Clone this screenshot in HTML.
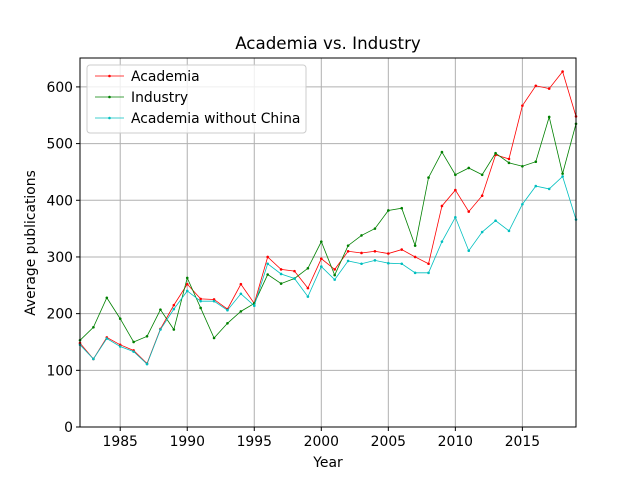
<!DOCTYPE html>
<html><head><meta charset="utf-8"><style>
body{margin:0;background:#fff;}
svg{display:block;font-family:"DejaVu Sans","Liberation Sans",sans-serif;}
</style></head><body>
<svg id="chart" width="640" height="480"></svg>
<script>
const years=[1982,1983,1984,1985,1986,1987,1988,1989,1990,1991,1992,1993,1994,1995,1996,1997,1998,1999,2000,2001,2002,2003,2004,2005,2006,2007,2008,2009,2010,2011,2012,2013,2014,2015,2016,2017,2018,2019];
const academia=[148,120,158,145,135,112,173,215,252,226,225,208,252,218,300,278,275,245,297,278,310,307,310,306,313,300,288,390,418,380,408,480,473,567,602,597,627,548];
const industry=[153,176,228,191,150,160,207,172,263,210,157,183,204,218,269,253,262,280,327,268,320,338,350,382,386,320,440,485,445,457,445,483,466,460,468,547,447,535];
const academiaNoChina=[145,120,156,142,133,111,172,208,240,222,222,206,235,214,288,270,262,230,283,260,293,288,294,289,288,272,272,327,370,311,344,364,346,393,425,420,442,366];
const xTicks=[1985,1990,1995,2000,2005,2010,2015];
const yTicks=[0,100,200,300,400,500,600];
const L=80,R=576,T=58,B=427;
const xMin=1982,xMax=2019,yMin=0,yMax=651;
const X=v=>L+(v-xMin)/(xMax-xMin)*(R-L);
const Y=v=>B-(v-yMin)/(yMax-yMin)*(B-T);
const svg=document.getElementById('chart');
const NS='http://www.w3.org/2000/svg';
function mk(tag,attrs){const e=document.createElementNS(NS,tag);for(const k in attrs)e.setAttribute(k,attrs[k]);svg.appendChild(e);return e;}
xTicks.forEach(t=>{const g=mk('line',{x1:X(t),x2:X(t),y1:T,y2:B,stroke:'#b0b0b0','stroke-width':1});

});
yTicks.forEach(t=>{const g=mk('line',{x1:L,x2:R,y1:Y(t),y2:Y(t),stroke:'#b0b0b0','stroke-width':1});

});
const series=[[academia,'#ff0000','academia-line'],[industry,'#008000','industry-line'],[academiaNoChina,'#00bfbf','academia-without-china-line']];
series.forEach(([d,c,n])=>{
 const p=mk('polyline',{points:d.map((v,i)=>X(years[i])+','+Y(v)).join(' '),fill:'none',stroke:c,'stroke-width':0.8});
 
 
 d.forEach((v,i)=>{const m=mk('circle',{cx:X(years[i]),cy:Y(v),r:1.3,fill:c});
 
 });
});
const f=mk('rect',{x:L,y:T,width:R-L,height:B-T,fill:'none',stroke:'#000','stroke-width':1});


xTicks.forEach(t=>{mk('line',{x1:X(t),x2:X(t),y1:B,y2:B+4,stroke:'#000'});
const tx=mk('text',{x:X(t),y:B+19,'text-anchor':'middle','font-size':13.9});tx.textContent=t;

});
yTicks.forEach(t=>{mk('line',{x1:L-4,x2:L,y1:Y(t),y2:Y(t),stroke:'#000'});
const tx=mk('text',{x:L-7,y:Y(t)+5,'text-anchor':'end','font-size':13.9});tx.textContent=t;

});
let t=mk('text',{x:328,y:49,'text-anchor':'middle','font-size':16.7});t.textContent='Academia vs. Industry';


t=mk('text',{x:328,y:467,'text-anchor':'middle','font-size':13.9});t.textContent='Year';


t=mk('text',{x:35,y:243,'text-anchor':'middle','font-size':13.9,transform:'rotate(-90 35 243)'});t.textContent='Average publications';


const lg=mk('rect',{x:87,y:65,width:219,height:68,rx:3,fill:'#fff','fill-opacity':0.8,stroke:'#ccc'});


const names=['Academia','Industry','Academia without China'];
series.forEach(([d,c],i)=>{const y=76+i*21;
mk('line',{x1:95,x2:124,y1:y,y2:y,stroke:c,'stroke-width':0.8});
mk('circle',{cx:109.5,cy:y,r:1.3,fill:c});
const tx=mk('text',{x:131,y:y+5,'font-size':13.9});tx.textContent=names[i];

});
</script>
</body></html>
